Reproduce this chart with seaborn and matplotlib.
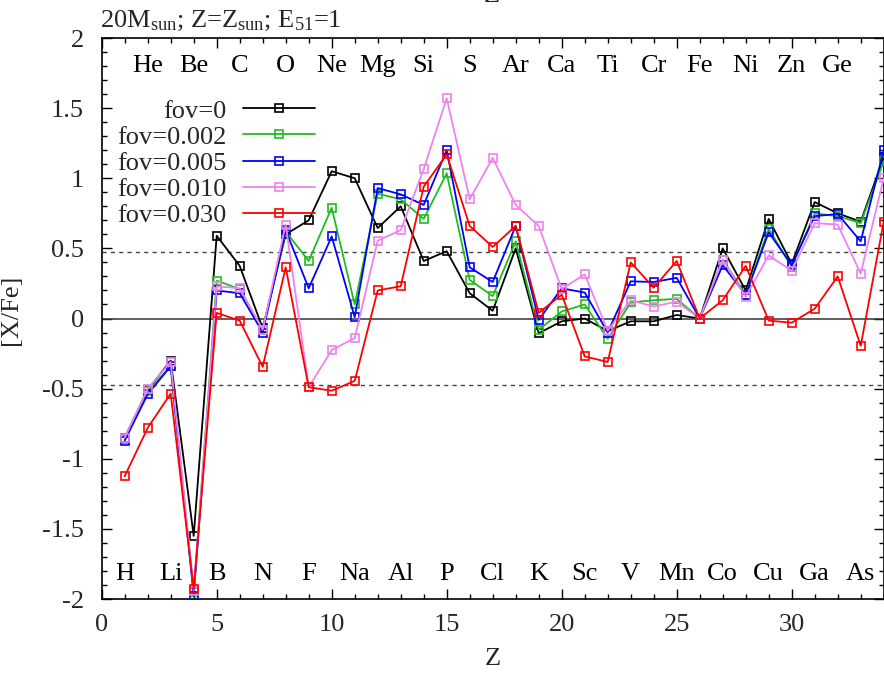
import numpy as np
import pandas as pd
import matplotlib
matplotlib.use("Agg")
import matplotlib.pyplot as plt
import seaborn as sns

# ---------------- data ----------------
Z = list(range(1, 35))
elements = ["H", "He", "Li", "Be", "B", "C", "N", "O", "F", "Ne", "Na", "Mg", "Al",
            "Si", "P", "S", "Cl", "Ar", "K", "Ca", "Sc", "Ti", "V", "Cr", "Mn", "Fe",
            "Co", "Ni", "Cu", "Zn", "Ga", "Ge", "As"]
series_names = ["fov=0", "fov=0.002", "fov=0.005", "fov=0.010", "fov=0.030"]

fov_0 = [-0.85, -0.51, -0.30, -1.55, 0.59, 0.375, -0.07, 0.60, 0.70, 1.05, 1.00,
         0.645, 0.80, 0.41, 0.48, 0.18, 0.055, 0.50, -0.105, -0.02, 0.0, -0.09,
         -0.02, -0.02, 0.025, 0.0, 0.50, 0.20, 0.71, 0.39, 0.83, 0.75, 0.69, 1.15]
fov_0002 = [-0.86, -0.52, -0.34, -1.95, 0.27, 0.21, -0.08, 0.62, 0.41, 0.79, 0.10,
            0.89, 0.85, 0.71, 1.035, 0.275, 0.16, 0.55, -0.08, 0.05, 0.10, -0.145,
            0.115, 0.13, 0.14, 0.0, 0.42, 0.17, 0.64, 0.37, 0.75, 0.73, 0.68, 1.12]
fov_0005 = [-0.87, -0.54, -0.34, -1.98, 0.20, 0.18, -0.10, 0.63, 0.215, 0.585, 0.01,
            0.93, 0.885, 0.81, 1.20, 0.365, 0.26, 0.66, -0.01, 0.215, 0.185, -0.10,
            0.265, 0.26, 0.29, 0.0, 0.38, 0.17, 0.615, 0.38, 0.73, 0.745, 0.55, 1.20]
fov_0010 = [-0.85, -0.50, -0.31, -1.94, 0.23, 0.215, -0.08, 0.67, -0.49, -0.225, -0.14,
            0.555, 0.63, 1.065, 1.57, 0.85, 1.145, 0.81, 0.66, 0.21, 0.315, -0.087,
            0.13, 0.085, 0.12, 0.0, 0.42, 0.155, 0.45, 0.34, 0.68, 0.67, 0.32, 1.00]
fov_0030 = [-1.125, -0.78, -0.535, -1.93, 0.04, -0.015, -0.345, 0.365, -0.49, -0.515, -0.445,
            0.20, 0.23, 0.94, 1.17, 0.66, 0.51, 0.66, 0.04, 0.17, -0.27, -0.31,
            0.40, 0.22, 0.41, 0.0, 0.13, 0.375, -0.015, -0.03, 0.07, 0.30, -0.195, 0.69]
all_series = [fov_0, fov_0002, fov_0005, fov_0010, fov_0030]
colors = ["#000000", "#22bb22", "#0000ff", "#ee82ee", "#ff0000"]

x_ticks = [0, 5, 10, 15, 20, 25, 30]
y_ticks = [-2, -1.5, -1, -0.5, 0, 0.5, 1, 1.5, 2]
y_tick_labels = ["-2", "-1.5", "-1", "-0.5", "0", "0.5", "1", "1.5", "2"]
dash_level = 0.477

# ---------------- style ----------------
sns.set_theme(style="ticks")
plt.rcParams["font.family"] = ["Liberation Serif", "DejaVu Serif"]
plt.rcParams["mathtext.fontset"] = "custom"
plt.rcParams["mathtext.rm"] = "Liberation Serif"
plt.rcParams["mathtext.it"] = "Liberation Serif:italic"
plt.rcParams["axes.unicode_minus"] = False

FS = 19

fig = plt.figure(figsize=(8.84, 6.78), dpi=100)
W, H = 884, 678
left_px, right_px, top_px, bot_px = 101.7, 883.7, 38, 599
ax = fig.add_axes([left_px / W, 1 - bot_px / H, (right_px - left_px) / W, (bot_px - top_px) / H])

ax.axhline(0, color="#333333", lw=1.1, zorder=1)
ax.axhline(dash_level, color="#444444", lw=1.0, ls=(0, (3, 3)), zorder=1)
ax.axhline(-dash_level, color="#444444", lw=1.0, ls=(0, (3, 3)), zorder=1)

for name, vals, col in zip(series_names, all_series, colors):
    df = pd.DataFrame({"Z": Z, "val": vals})
    sns.lineplot(data=df, x="Z", y="val", ax=ax, color=col, label=name,
                 marker="s", markersize=5.5, markerfacecolor="none",
                 markeredgecolor=col, markeredgewidth=1.2, linewidth=1.3,
                 sort=False, estimator=None, zorder=3)

# element labels
for i, el in enumerate(elements):
    z = i + 1
    yv = 1.80 if z % 2 == 0 else -1.82
    ax.text(z, yv, el, ha="center", va="center", fontsize=FS, color="black", zorder=4)

ax.set_xlim(0, 34)
ax.set_ylim(-2, 2)
ax.set_xticks(x_ticks)
ax.set_xticklabels([str(t) for t in x_ticks])
ax.set_yticks(y_ticks)
ax.set_yticklabels(y_tick_labels)
ax.set_xticks(np.arange(0, 35, 1), minor=True)
ax.set_yticks(np.arange(-2, 2.01, 0.1), minor=True)
ax.tick_params(which="both", direction="in", top=True, right=True, width=1.0, color="black")
ax.tick_params(which="major", length=7, labelsize=FS)
ax.tick_params(which="minor", length=3.5)
ax.tick_params(axis="y", which="major", pad=13)
ax.tick_params(axis="x", which="major", pad=11)
for sp in ax.spines.values():
    sp.set_color("black")
    sp.set_linewidth(1.2)

ax.set_xlabel("Z", fontsize=FS)
ax.set_ylabel("[X/Fe]", fontsize=FS)
ax.xaxis.set_label_coords(0.5, -0.088)
ax.yaxis.set_label_coords(-0.102, 0.515)

leg = ax.legend(loc="upper right", bbox_to_anchor=(0.2728, 0.891), frameon=False,
                markerfirst=False, fontsize=FS, handlelength=2.73, handletextpad=0.64,
                labelspacing=0.1, borderpad=0, borderaxespad=0)

fig.text(100 / W, 1 - 27 / H, r"20M$_{\rm sun}$; Z=Z$_{\rm sun}$; E$_{51}$=1",
         fontsize=FS, ha="left", va="baseline")
fig.text(492 / W, 1 - 2 / H, "Z", fontsize=FS, ha="center", va="baseline")

fig.savefig("out.png", dpi=100)
